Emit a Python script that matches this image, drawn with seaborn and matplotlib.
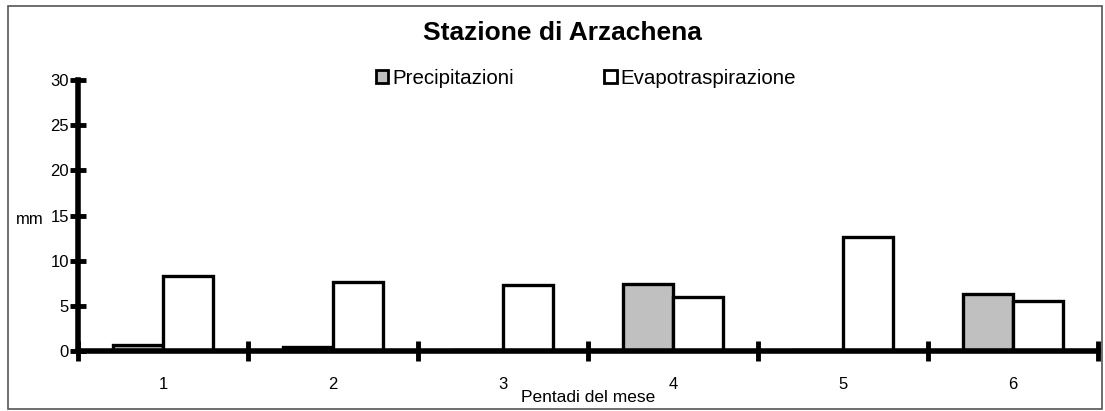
import matplotlib
matplotlib.use("Agg")
import matplotlib.pyplot as plt
import seaborn as sns
import pandas as pd
from matplotlib.patches import Rectangle, Patch

pentadi = ["1", "2", "3", "4", "5", "6"]
precipitazioni = [0.7, 0.4, 0.1, 7.4, 0.1, 6.3]
evapotraspirazione = [8.3, 7.6, 7.3, 6.0, 12.6, 5.5]
series_names = ["Precipitazioni", "Evapotraspirazione"]
y_ticks = [0, 5, 10, 15, 20, 25, 30]

df = pd.DataFrame({
    "Pentade": pentadi * 2,
    "Serie": [series_names[0]] * 6 + [series_names[1]] * 6,
    "mm": precipitazioni + evapotraspirazione,
})

sns.set_theme(style="white")
plt.rcParams["font.family"] = ["Liberation Sans", "DejaVu Sans"]
for k in ["text.color", "axes.labelcolor", "xtick.color", "ytick.color"]:
    plt.rcParams[k] = "black"

fig = plt.figure(figsize=(11.05, 4.11), dpi=100)
ax = fig.add_axes([78 / 1105, 1 - 351 / 411, (1098 - 78) / 1105, (351 - 80) / 411])

sns.barplot(data=df, x="Pentade", y="mm", hue="Serie", order=pentadi,
            hue_order=series_names, palette=["#c0c0c0", "#ffffff"],
            width=0.59, gap=0, edgecolor="black", linewidth=2.4,
            errorbar=None, ax=ax, legend=False, zorder=2)

ax.set_xlim(-0.5, 5.5)
ax.set_ylim(0, 30)
ax.set_yticks(y_ticks)
ax.set_yticklabels([str(v) for v in y_ticks], fontsize=12)
ax.tick_params(axis="y", left=True, direction="inout", length=11, width=3.5,
               color="black", pad=1)
ax.set_xticks(range(6))
ax.set_xticklabels(pentadi, fontsize=12)
ax.tick_params(axis="x", which="major", bottom=True, length=0, pad=19)
ax.set_xticks([i + 0.5 for i in range(-1, 6)], minor=True)
ax.tick_params(axis="x", which="minor", bottom=True, direction="inout", length=15,
               width=3.5, color="black")

for side in ["top", "right"]:
    ax.spines[side].set_visible(False)
for side in ["left", "bottom"]:
    ax.spines[side].set_linewidth(4)
    ax.spines[side].set_color("black")
    ax.spines[side].set_zorder(3)

ax.set_xlabel("Pentadi del mese", fontsize=12.5, labelpad=-2)
ax.set_ylabel("mm", fontsize=12, rotation=0, va="center")
ax.yaxis.set_label_coords(-0.047, 0.485)

fig.text(562 / 1105, 1 - 33 / 411, "Stazione di Arzachena", ha="center", va="center",
         fontsize=19, fontweight="bold")

handles = [Patch(facecolor="#c0c0c0", edgecolor="black", linewidth=2),
           Patch(facecolor="white", edgecolor="black", linewidth=2)]
fig.legend(handles, series_names, loc="center", bbox_to_anchor=(586 / 1105, 1 - 78 / 411),
           ncol=2, frameon=False, fontsize=14.8, handlelength=0.6, handleheight=0.6,
           handletextpad=0.2, columnspacing=4.4)

fig.patches.append(Rectangle((8 / 1105, 2 / 411), 1094 / 1105, 403 / 411,
                             transform=fig.transFigure, fill=False,
                             edgecolor="#555555", linewidth=1.2))

fig.savefig("out.png", dpi=100)
